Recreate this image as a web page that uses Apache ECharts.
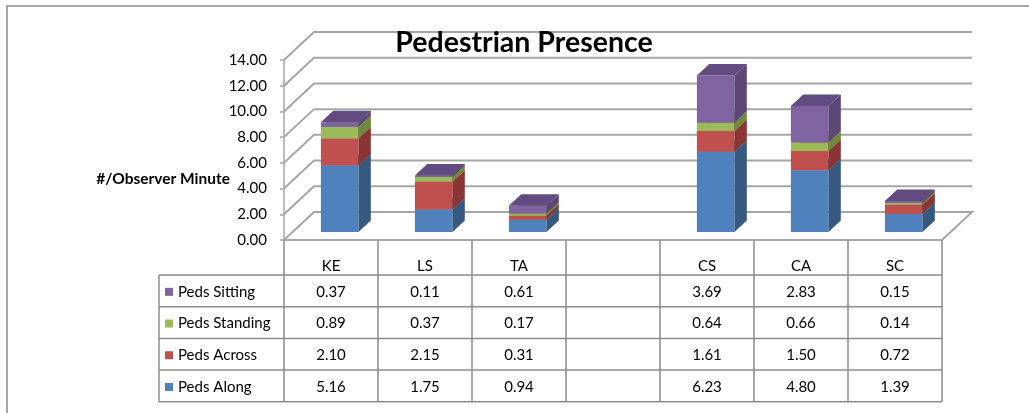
<!DOCTYPE html>
<html>
<head>
<meta charset="utf-8">
<script src="https://cdn.jsdelivr.net/npm/echarts@6/dist/echarts.min.js"></script>
<style>
  html, body { margin: 0; padding: 0; background: #ffffff; }
  #chart { width: 1029px; height: 413px; }
</style>
</head>
<body>
<div id="chart"></div>
<script>
// Category columns (the fourth column is intentionally empty)
const categories = ['KE', 'LS', 'TA', '', 'CS', 'CA', 'SC'];

// Observed pedestrians per observer minute, by activity
const pedsAlong    = [5.16, 1.75, 0.94, null, 6.23, 4.80, 1.39];
const pedsAcross   = [2.10, 2.15, 0.31, null, 1.61, 1.50, 0.72];
const pedsStanding = [0.89, 0.37, 0.17, null, 0.64, 0.66, 0.14];
const pedsSitting  = [0.37, 0.11, 0.61, null, 3.69, 2.83, 0.15];

// Stack order, bottom to top
const layerNames = ['Peds Along', 'Peds Across', 'Peds Standing', 'Peds Sitting'];
const layerValues = [pedsAlong, pedsAcross, pedsStanding, pedsSitting];

// Value axis ticks
const yTicks = [0, 2, 4, 6, 8, 10, 12, 14];

// Face colours per layer: front, side, top
const faceColors = [
  { front: '#4F81BD', side: '#37587F', top: '#41699A' },
  { front: '#C0504D', side: '#8A3533', top: '#9C403D' },
  { front: '#9BBB59', side: '#6E8A3B', top: '#7E9A45' },
  { front: '#8064A2', side: '#5C4776', top: '#624B80' }
];

const FONT = 'Lato, "Open Sans", sans-serif';
const DEPTH_X = 30;   // oblique depth of the plot box
const DEPTH_Y = 28;
const BAR_FRONT = 0.29;  // bar position inside the depth
const BAR_DEPTH = 0.41;
const GRID = { left: 284, top: 60, width: 658, height: 180 };
const HEADER_H = 35;
const ROW_H = 31.7;
const TABLE_LEFT = 159;
const LINE_COLOR = '#8c8c8c';

// Stacked segments: [category index, base, top, own value]
function buildLayer(i) {
  const out = [];
  categories.forEach((c, k) => {
    const v = layerValues[i][k];
    if (v == null) return;
    let base = 0;
    for (let j = 0; j < i; j++) base += layerValues[j][k];
    out.push([k, base, base + v, v]);
  });
  return out;
}

function renderGridLine(params, api) {
  const cs = params.coordSys;
  const v = api.value(1);
  const y = api.coord([0, v])[1];
  const pts = [[cs.x, y], [cs.x + DEPTH_X, y - DEPTH_Y], [cs.x + cs.width + DEPTH_X, y - DEPTH_Y]];
  if (v === 0) pts.push([cs.x + cs.width, y]);
  return {
    type: 'polyline',
    shape: { points: pts },
    style: { stroke: '#a6a6a6', lineWidth: 2, fill: null },
    silent: true
  };
}

function makeBoxRenderer(layer) {
  const col = faceColors[layer];
  const row = layerNames.length - 1 - layer;  // table rows run top layer first
  return function (params, api) {
    const cs = params.coordSys;
    const cat = api.value(0);
    const pBase = api.coord([cat, api.value(1)]);
    const pTop = api.coord([cat, api.value(2)]);
    const band = api.size([1, 0])[0];
    const w = band * 0.4;
    const fx = BAR_FRONT * DEPTH_X, fy = BAR_FRONT * DEPTH_Y;
    const bx = BAR_DEPTH * DEPTH_X, by = BAR_DEPTH * DEPTH_Y;
    const x0 = pBase[0] - w / 2 + fx;
    const x1 = x0 + w;
    const yb = pBase[1] - fy;
    const yt = pTop[1] - fy;
    const cellY = cs.y + cs.height + HEADER_H + ROW_H * (row + 0.5);
    return {
      type: 'group',
      children: [
        { type: 'rect', shape: { x: x0, y: yt, width: w, height: yb - yt },
          style: { fill: col.front } },
        { type: 'polygon', shape: { points: [[x1, yb], [x1 + bx, yb - by], [x1 + bx, yt - by], [x1, yt]] },
          style: { fill: col.side } },
        { type: 'polygon', shape: { points: [[x0, yt], [x1, yt], [x1 + bx, yt - by], [x0 + bx, yt - by]] },
          style: { fill: col.top } },
        { type: 'text', style: {
            text: api.value(3).toFixed(2), x: pBase[0], y: cellY + 1,
            align: 'center', verticalAlign: 'middle',
            fontFamily: FONT, fontSize: 15, fill: '#000' } }
      ]
    };
  };
}

// Table rules below the axis
const tableGraphics = [];
const tableTop = GRID.top + GRID.height;
for (let r = 0; r <= 4; r++) {
  const y = tableTop + HEADER_H + ROW_H * r;
  tableGraphics.push({ type: 'line', shape: { x1: TABLE_LEFT, y1: y, x2: GRID.left + GRID.width, y2: y },
    style: { stroke: LINE_COLOR, lineWidth: 1.5 }, silent: true });
}
const tableBottom = tableTop + HEADER_H + ROW_H * 4;
tableGraphics.push({ type: 'line', shape: { x1: TABLE_LEFT, y1: tableTop + HEADER_H, x2: TABLE_LEFT, y2: tableBottom },
  style: { stroke: LINE_COLOR, lineWidth: 1.5 }, silent: true });

const chart = echarts.init(document.getElementById('chart'), null, { renderer: 'canvas' });

const series = [{
  type: 'custom',
  name: 'grid',
  z: 1,
  silent: true,
  renderItem: renderGridLine,
  encode: { x: 0, y: 1 },
  data: yTicks.map(v => [0, v])
}];
layerNames.forEach((name, i) => {
  series.push({
    type: 'custom',
    name: name,
    z: 2 + i,
    itemStyle: { color: faceColors[i].front },
    renderItem: makeBoxRenderer(i),
    encode: { x: 0, y: [1, 2] },
    data: buildLayer(i)
  });
});

chart.setOption({
  animation: false,
  title: {
    text: 'Pedestrian Presence',
    left: 519,
    top: 23,
    textAlign: 'center',
    textStyle: { fontFamily: FONT, fontSize: 28.5, fontWeight: 'bold', color: '#000' }
  },
  legend: {
    orient: 'vertical',
    left: 165,
    top: tableTop + HEADER_H + (ROW_H - 16) / 2 + 1,
    padding: 0,
    itemWidth: 8,
    itemHeight: 8,
    itemGap: ROW_H - 16,
    icon: 'rect',
    selectedMode: false,
    data: ['Peds Sitting', 'Peds Standing', 'Peds Across', 'Peds Along'],
    textStyle: { fontFamily: FONT, fontSize: 15, lineHeight: 16, color: '#000' }
  },
  grid: { left: GRID.left, top: GRID.top, width: GRID.width, height: GRID.height },
  xAxis: {
    type: 'category',
    data: categories,
    boundaryGap: true,
    axisLine: { show: true, lineStyle: { color: LINE_COLOR, width: 1.5 } },
    axisTick: { show: true, interval: 0, length: HEADER_H + ROW_H * 4, lineStyle: { color: LINE_COLOR, width: 1.5 } },
    axisLabel: { interval: 0, margin: 19, fontFamily: FONT, fontSize: 15, color: '#000' },
    splitLine: { show: false }
  },
  yAxis: {
    type: 'value',
    min: 0,
    max: 14,
    interval: 2,
    axisLine: { show: true, lineStyle: { color: '#a6a6a6', width: 1.5 } },
    axisTick: { show: true, length: 4, lineStyle: { color: '#a6a6a6', width: 1.5 } },
    axisLabel: { margin: 17, fontFamily: FONT, fontSize: 15, color: '#000',
      formatter: v => v.toFixed(2) },
    splitLine: { show: false }
  },
  graphic: [
    { type: 'rect', shape: { x: 7, y: 6, width: 1200, height: 600 },
      style: { fill: null, stroke: '#8c8c8c', lineWidth: 1.5 }, silent: true, z: 0 },
    { type: 'text', style: { text: '#/Observer Minute', x: 230, y: 179, align: 'right', verticalAlign: 'middle',
      fontFamily: FONT, fontSize: 15.5, fontWeight: 'bold', fill: '#000' }, silent: true },
    ...tableGraphics
  ],
  series: series
});
</script>
</body>
</html>
